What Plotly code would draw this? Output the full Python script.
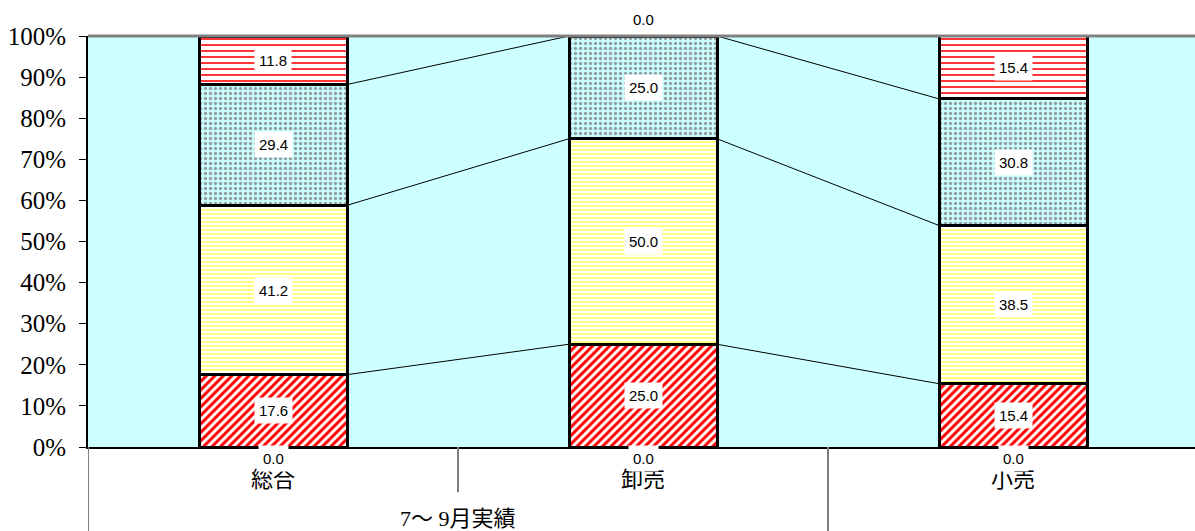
import plotly.graph_objects as go
import numpy as np

categories = ["総合", "卸売", "小売"]
group_label = "7～ 9月実績"
s1 = [0.0, 0.0, 0.0]
s2 = [17.6, 25.0, 15.4]
s3 = [41.2, 50.0, 38.5]
s4 = [29.4, 25.0, 30.8]
s5 = [11.8, 0.0, 15.4]
series = [s1, s2, s3, s4, s5]
y_ticks = [0, 10, 20, 30, 40, 50, 60, 70, 80, 90, 100]

styles = [
    dict(shape="/", fg="#FF0000", bg="#FFFFFF", size=6, sol=0.5),
    dict(shape="/", fg="#FF0000", bg="#FFFFFF", size=6, sol=0.5),
    dict(shape="-", fg="#FFFF80", bg="#FFFFFF", size=4, sol=0.5),
    dict(shape=".", fg="#939F9F", bg="#CCFFFF", size=5, sol=0.35),
    dict(shape="-", fg="#FF2020", bg="#FFFFFF", size=6, sol=0.3),
]

BAR_W = 0.4
xs = np.arange(len(categories))
fig = go.Figure()

for vals, st in zip(series, styles):
    fig.add_trace(go.Bar(
        x=xs, y=vals, width=BAR_W,
        marker=dict(color=st["bg"], line=dict(color="black", width=3),
                    pattern=dict(shape=st["shape"], fgcolor=st["fg"], bgcolor=st["bg"],
                                 size=st["size"], solidity=st["sol"], fillmode="replace")),
        showlegend=False, hoverinfo="skip"))

cum = np.cumsum(np.array(series), axis=0)

# series lines
for k in range(1, len(series) - 1):
    for i in range(len(categories) - 1):
        fig.add_trace(go.Scatter(
            x=[xs[i] + BAR_W / 2, xs[i + 1] - BAR_W / 2],
            y=[cum[k][i], cum[k][i + 1]],
            mode="lines", line=dict(color="black", width=1),
            showlegend=False, hoverinfo="skip"))

annotations = []
for k, vals in enumerate(series):
    for i, v in enumerate(vals):
        center = cum[k][i] - v / 2
        shift = 0
        if v == 0:
            shift = -11 if center < 50 else 17
        annotations.append(dict(
            x=xs[i], y=center, text=f"{v:.1f}", showarrow=False, yshift=shift,
            bgcolor="white", borderpad=4,
            font=dict(family="Liberation Sans, Arial", size=15, color="black")))

annotations.append(dict(
    x=0.5, xref="x", y=-0.175, yref="paper", yanchor="middle", text=group_label,
    showarrow=False,
    font=dict(family="Liberation Serif, Noto Sans CJK JP", size=22, color="black")))

shapes = [
    dict(type="line", xref="x", yref="paper", x0=-0.5, x1=-0.5, y0=0, y1=-0.205,
         line=dict(color="#808080", width=2)),
    dict(type="line", xref="x", yref="paper", x0=0.5, x1=0.5, y0=0, y1=-0.11,
         line=dict(color="#808080", width=2)),
    dict(type="line", xref="x", yref="paper", x0=1.5, x1=1.5, y0=0, y1=-0.205,
         line=dict(color="#808080", width=2)),
    dict(type="line", xref="paper", yref="paper", x0=0, x1=1, y0=1, y1=1,
         line=dict(color="#808080", width=3)),
]

fig.update_layout(
    width=1195, height=531,
    margin=dict(l=88, r=0, t=36, b=84),
    barmode="stack", bargap=0.6,
    plot_bgcolor="#CCFFFF", paper_bgcolor="white",
    annotations=annotations, shapes=shapes,
    xaxis=dict(range=[-0.5, -0.5 + 1107 / 370], tickvals=list(xs), ticktext=categories,
               showline=True, linecolor="black", linewidth=2, ticks="",
               ticklabelstandoff=12,
               tickfont=dict(family="Liberation Serif, Noto Sans CJK JP", size=22, color="black"),
               showgrid=False, zeroline=False),
    yaxis=dict(range=[0, 100], tickvals=y_ticks, ticktext=[f"{t}%" for t in y_ticks],
               showline=True, linecolor="black", linewidth=2, ticks="outside",
               ticklen=7, tickcolor="black", tickwidth=1, ticklabelstandoff=8,
               tickfont=dict(family="Liberation Serif", size=25, color="black"),
               showgrid=False, zeroline=False),
)

fig.write_html("out.html")
